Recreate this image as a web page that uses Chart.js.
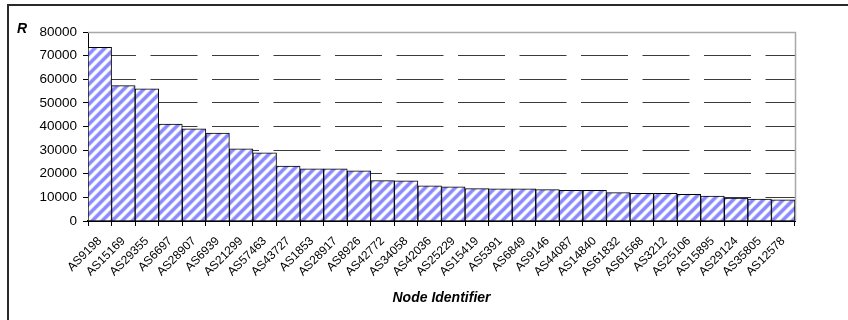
<!DOCTYPE html>
<html>
<head>
<meta charset="utf-8">
<title>Node Identifier - R</title>
<script src="https://cdn.jsdelivr.net/npm/chart.js@4/dist/chart.umd.min.js"></script>
<style>
    body { margin: 0; background: #fff; }
    #wrap { position: relative; width: 848px; height: 320px; }
</style>
</head>
<body>
<div id="wrap"><canvas id="rankChart" width="848" height="320"></canvas></div>
<script>
// Chart data
const nodeIds = ['AS9198', 'AS15169', 'AS29355', 'AS6697', 'AS28907', 'AS6939', 'AS21299', 'AS57463',
    'AS43727', 'AS1853', 'AS28917', 'AS8926', 'AS42772', 'AS34058', 'AS42036', 'AS25229',
    'AS15419', 'AS5391', 'AS6849', 'AS9146', 'AS44087', 'AS14840', 'AS61832', 'AS61568',
    'AS3212', 'AS25106', 'AS15895', 'AS29124', 'AS35805', 'AS12578'];
const rValues = [73500, 57300, 55900, 41000, 39000, 37200, 30600, 28900,
    23200, 22100, 22100, 21200, 17100, 17000, 14900, 14500,
    13700, 13600, 13600, 13300, 13000, 13000, 12000, 11700,
    11700, 11300, 10600, 9700, 9300, 9000];
const yTicks = [0, 10000, 20000, 30000, 40000, 50000, 60000, 70000, 80000];

const FONT = "'Liberation Sans', Arial, sans-serif";

// diagonal hatch fill like the old office charts
function makeHatch() {
    const shades = ['#a4a4ff', '#8c8cff', '#8888ff', '#8c8cff', '#a4a4ff',
        '#e0e0ff', '#ffffff', '#ffffff', '#ffffff', '#e0e0ff'];
    const n = shades.length;
    const c = document.createElement('canvas');
    c.width = n;
    c.height = n;
    const g = c.getContext('2d');
    for (let y = 0; y < n; y++) {
        for (let x = 0; x < n; x++) {
            g.fillStyle = shades[(x + y) % n];
            g.fillRect(x, y, 1, 1);
        }
    }
    return g.createPattern(c, 'repeat');
}

// outer frame, plot frame and the "R" label
const framePlugin = {
    id: 'frame',
    beforeDatasetsDraw(chart) {
        const { ctx, chartArea } = chart;
        ctx.save();
        ctx.fillStyle = '#2a2a2a';
        ctx.fillRect(7, 4, 2, 316);
        ctx.fillRect(7, 4, 841, 2);
        ctx.strokeStyle = '#a8a8a8';
        ctx.lineWidth = 1.5;
        ctx.beginPath();
        ctx.moveTo(chartArea.left, chartArea.top + 0.5);
        ctx.lineTo(chartArea.right + 0.5, chartArea.top + 0.5);
        ctx.lineTo(chartArea.right + 0.5, chartArea.bottom);
        ctx.stroke();
        ctx.fillStyle = '#000';
        ctx.font = 'italic bold 14px ' + FONT;
        ctx.textAlign = 'left';
        ctx.textBaseline = 'alphabetic';
        ctx.fillText('R', 17, 33);
        ctx.restore();
    }
};

const ctx = document.getElementById('rankChart').getContext('2d');

new Chart(ctx, {
    type: 'bar',
    data: {
        labels: nodeIds,
        datasets: [{
            label: 'R',
            data: rValues,
            backgroundColor: makeHatch(),
            borderColor: '#000',
            borderWidth: 1,
            barPercentage: 1,
            categoryPercentage: 1
        }]
    },
    options: {
        responsive: false,
        animation: false,
        layout: {
            padding: { left: 0, top: 32, right: 53, bottom: 0 }
        },
        plugins: {
            legend: { display: false },
            tooltip: { enabled: false }
        },
        scales: {
            x: {
                afterFit(scale) { scale.height = 99; },
                grid: {
                    offset: true,
                    drawOnChartArea: false,
                    tickLength: 5,
                    tickColor: '#000',
                    color: '#000'
                },
                border: { color: '#000', width: 2 },
                ticks: {
                    autoSkip: false,
                    minRotation: 45,
                    maxRotation: 45,
                    padding: 8,
                    color: '#000',
                    font: { family: FONT, size: 12 }
                },
                title: {
                    display: true,
                    text: 'Node Identifier',
                    color: '#000',
                    font: { family: FONT, size: 14, weight: 'bold', style: 'italic' },
                    padding: { top: 4, bottom: 13.5 }
                }
            },
            y: {
                min: 0,
                max: 80000,
                afterFit(scale) { scale.width = 88; },
                afterBuildTicks(scale) {
                    scale.ticks = yTicks.map(v => ({ value: v }));
                },
                grid: {
                    color: (c) => (c.tick && (c.tick.value === 0 || c.tick.value === 80000)) ? 'rgba(0,0,0,0)' : '#3a3a3a',
                    lineWidth: 1,
                    tickLength: 5,
                    tickColor: '#000'
                },
                border: { color: '#000', width: 1, dash: [47, 14.5] },
                ticks: {
                    padding: 6,
                    color: '#000',
                    font: { family: FONT, size: 13.5 },
                    callback: (v) => String(v)
                }
            }
        }
    },
    plugins: [framePlugin]
});
</script>
</body>
</html>
